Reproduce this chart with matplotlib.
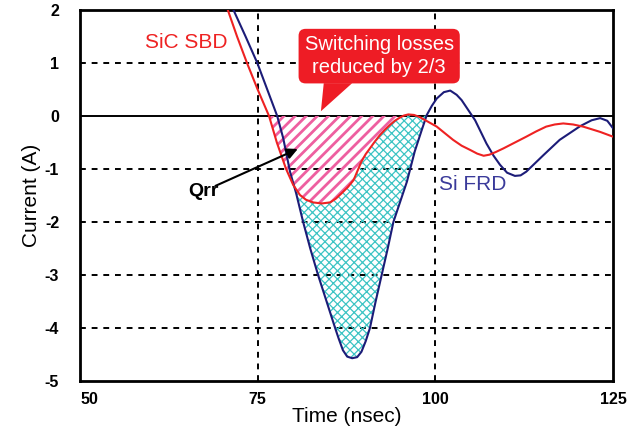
import numpy as np
import matplotlib
matplotlib.use('Agg')
import matplotlib.pyplot as plt
from matplotlib.patches import Polygon

plt.rcParams['font.family'] = ['Liberation Sans', 'DejaVu Sans']

# SiC SBD recovery current (red)
sic_t = np.array([70.8, 72.1, 73.5, 75.0, 76.6, 77.7, 79.0, 80.0, 80.95, 81.8, 82.8, 84.0,
                  85.2, 86.0, 86.8, 87.7, 88.5, 89.0, 89.6, 90.2, 90.8, 91.5, 92.2, 92.9,
                  93.6, 94.3, 95.0, 95.6, 96.2, 97.0, 97.8, 99.0, 100.2, 101.3, 102.5, 103.7,
                  104.9, 105.9, 106.8, 107.6, 108.5, 109.6, 111.2, 112.8, 114.2, 115.6, 116.8,
                  118.0, 119.4, 120.8, 123.2, 125.0])
sic_i = np.array([2.0, 1.5, 1.0, 0.5, 0.0, -0.5, -1.0, -1.30, -1.49, -1.58, -1.63, -1.65,
                  -1.63, -1.56, -1.46, -1.34, -1.21, -1.05, -0.86, -0.72, -0.61, -0.48, -0.36, -0.26,
                  -0.17, -0.09, -0.03, 0.01, 0.03, 0.02, -0.02, -0.11, -0.20, -0.32, -0.45, -0.56,
                  -0.64, -0.71, -0.75, -0.73, -0.68, -0.61, -0.50, -0.39, -0.29, -0.20, -0.16,
                  -0.14, -0.16, -0.20, -0.30, -0.39])

# Si FRD recovery current (blue)
si_t = np.array([71.6, 73.3, 74.95, 76.35, 77.75, 78.6, 79.55, 80.4, 81.4, 82.4, 83.5, 84.7,
                 85.9, 86.4, 87.0, 87.6, 88.3, 89.0, 89.6, 90.2, 90.8, 91.6, 92.45, 93.3,
                 94.1, 95.0, 96.0, 97.1, 98.1, 98.8, 99.5, 100.2, 101.2, 102.1, 103.0, 103.7,
                 104.6, 105.6, 107.2, 108.2, 109.1, 110.1, 111.2, 112.0, 112.8, 115.2, 117.5,
                 120.4, 122.0, 123.2, 124.2, 125.0])
si_i = np.array([2.0, 1.5, 1.0, 0.5, 0.0, -0.42, -1.05, -1.45, -2.0, -2.5, -3.0, -3.5,
                 -4.0, -4.2, -4.42, -4.54, -4.57, -4.55, -4.45, -4.25, -4.0, -3.5, -3.0, -2.5,
                 -2.0, -1.64, -1.24, -0.67, -0.26, 0.02, 0.19, 0.33, 0.45, 0.48, 0.40, 0.30,
                 0.12, -0.08, -0.52, -0.75, -0.92, -1.07, -1.13, -1.12, -1.05, -0.74, -0.45,
                 -0.19, -0.08, -0.04, -0.09, -0.23])

xticks = [50, 75, 100, 125]
yticks = [-5, -4, -3, -2, -1, 0, 1, 2]

fig = plt.figure(figsize=(6.36, 4.28), dpi=100)
ax = fig.add_axes([0.1258, 0.1098, 0.838, 0.8668])
ax.set_xlim(50, 125)
ax.set_ylim(-5, 2)

# grid
for x in [75, 100]:
    ax.axvline(x, color='black', lw=1.4, ls=(0, (3, 3)), zorder=1)
for y in [1, -1, -2, -3, -4]:
    ax.axhline(y, color='black', lw=1.4, ls=(0, (3, 3)), zorder=1)
ax.axhline(0, color='black', lw=1.4, zorder=1)

# Qrr of SiC (pink stripes)
m = (sic_t >= 76.6) & (sic_t <= 96.2)
with plt.rc_context({'hatch.linewidth': 2.0, 'hatch.color': '#ee5fa0'}):
    ax.fill_between(sic_t[m], sic_i[m], 0, where=sic_i[m] <= 0, interpolate=True,
                    facecolor='none', edgecolor='#ee5fa0', hatch='///', lw=0, zorder=2)

# extra Qrr of Si (cyan cross hatch)
mb = (si_t >= 79.55) & (si_t <= 98.8)
mr = (sic_t >= 79.55) & (sic_t <= 98.8)
poly = np.concatenate([np.column_stack([si_t[mb], si_i[mb]]),
                       np.column_stack([sic_t[mr], sic_i[mr]])[::-1]])
with plt.rc_context({'hatch.linewidth': 0.9, 'hatch.color': '#3cc4c4'}):
    ax.add_patch(Polygon(poly, closed=True, facecolor='none', edgecolor='#3cc4c4',
                         hatch='xxxx', lw=0, zorder=2))

ax.plot(sic_t, sic_i, color='#ee2222', lw=1.5, zorder=4, solid_joinstyle='round')
ax.plot(si_t, si_i, color='#1c1c78', lw=1.5, zorder=3, solid_joinstyle='round')

ax.text(59.15, 1.39, 'SiC SBD', color='#ee2222', fontsize=15, va='center', ha='left')
ax.text(100.5, -1.30, 'Si FRD', color='#3a3a9a', fontsize=15, va='center', ha='left')
ax.text(65.2, -1.43, 'Qrr', color='black', fontsize=14, fontweight='bold', va='center', ha='left')
ax.annotate('', xy=(81.0, -0.60), xytext=(68.7, -1.34),
            arrowprops=dict(arrowstyle='-|>', color='black', lw=1.5, mutation_scale=16), zorder=6)

# callout
ax.text(92.1, 1.13, 'Switching losses\nreduced by 2/3', color='white', fontsize=14.5,
        ha='center', va='center', linespacing=1.3, zorder=7,
        bbox=dict(boxstyle='round,pad=0.3,rounding_size=0.35', facecolor='#ee1c25', edgecolor='none'))
ax.add_patch(Polygon([(84.3, 0.62), (88.3, 0.62), (83.9, 0.09)], closed=True,
                     facecolor='#ee1c25', edgecolor='none', zorder=7))

ax.set_xticks(xticks)
ax.set_yticks(yticks)
ax.set_xticklabels([str(v) for v in xticks], fontweight='bold', fontsize=11.5)
ax.set_yticklabels([str(v) for v in yticks], fontweight='bold', fontsize=11.5)
ax.get_xticklabels()[0].set_horizontalalignment('left')
ax.tick_params(length=0)
ax.tick_params(axis='x', pad=8)
ax.tick_params(axis='y', pad=15)
for s in ax.spines.values():
    s.set_linewidth(2)
ax.set_xlabel('Time (nsec)', fontsize=15, labelpad=0)
ax.set_ylabel('Current (A)', fontsize=15, labelpad=3)

fig.savefig('out.png', dpi=100)
